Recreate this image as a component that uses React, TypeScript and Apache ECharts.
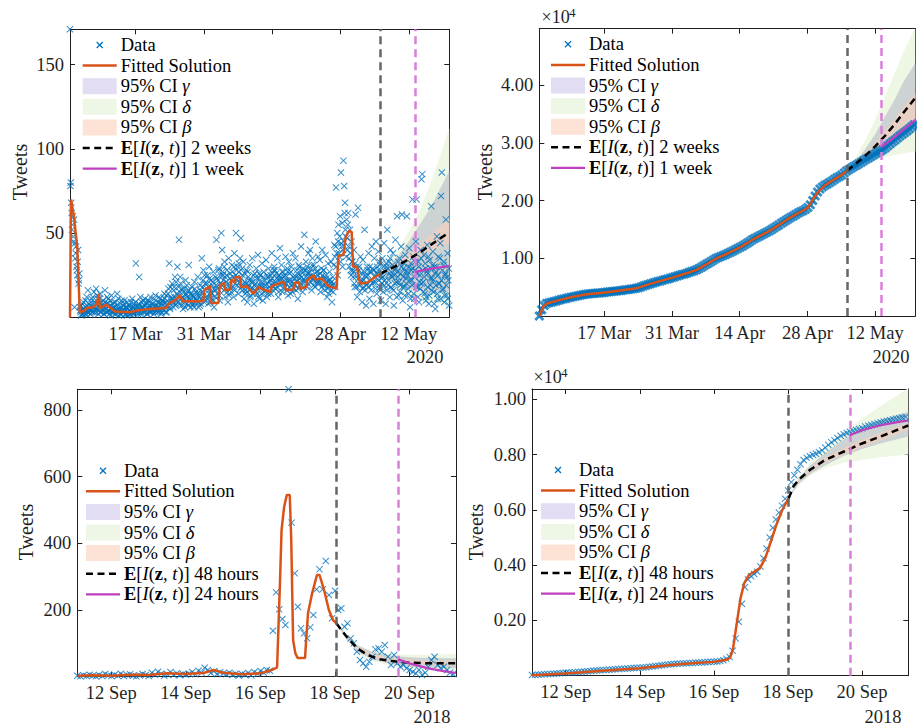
import React, { useEffect, useRef } from 'react';
import * as echarts from 'echarts';

// ---------------- DATA ----------------
// Panel 1 (top-left): tweets per hour, x = days since 1 Mar 2020
// set A sampled every 4 h from day 2.6, set B sampled every 4 h from day 2.6 + 2 h
const p1Start = 2.6;
const p1Step = 1 / 6;
const p1StartB = 2.6 + 1 / 12;
const p1Counts = [
  171, 80, 62, 55, 48, 58, 44, 38, 30, 25, 40, 22, 6, 3, 1, 8, 2, 5, 4, 10, 2, 7, 16, 3,
  5, 2, 9, 4, 12, 6, 3, 8, 17, 5, 11, 2, 6, 14, 3, 9, 4, 7, 2, 16, 5, 8, 3, 11,
  4, 7, 1, 13, 5, 3, 6, 2, 9, 4, 14, 3, 1, 5, 8, 2, 4, 7, 3, 10, 2, 6, 1, 5,
  7, 2, 4, 9, 3, 6, 2, 8, 5, 32, 3, 6, 4, 24, 7, 2, 9, 5, 6, 3, 11, 4, 8, 2,
  5, 9, 3, 12, 6, 4, 8, 2, 6, 13, 4, 7, 3, 9, 5, 11, 2, 8, 10, 4, 14, 6, 9, 3,
  7, 17, 32, 5, 12, 9, 11, 6, 18, 24, 8, 14, 30, 9, 46, 15, 20, 7, 12, 5, 17, 9, 22, 14,
  8, 16, 31, 11, 6, 13, 18, 7, 12, 21, 9, 15, 10, 24, 6, 14, 19, 8, 35, 15, 28, 9, 20, 12,
  17, 25, 8, 30, 14, 22, 11, 19, 27, 6, 16, 24, 46, 14, 22, 29, 10, 18, 50, 40, 25, 16, 33, 12,
  21, 28, 9, 35, 18, 26, 15, 31, 24, 12, 38, 20, 50, 22, 30, 14, 27, 35, 47, 18, 25, 33, 11, 21,
  16, 28, 9, 24, 19, 31, 13, 22, 35, 17, 8, 26, 20, 29, 14, 37, 23, 11, 25, 18, 32, 10, 27, 15,
  19, 34, 12, 24, 29, 16, 22, 14, 38, 26, 18, 30, 28, 17, 23, 35, 12, 25, 41, 24, 31, 15, 27, 20,
  18, 36, 22, 29, 13, 33, 26, 14, 30, 21, 38, 17, 23, 35, 16, 28, 11, 31, 30, 19, 42, 24, 15, 27,
  49, 21, 33, 18, 26, 38, 24, 40, 29, 16, 35, 22, 31, 18, 45, 27, 20, 36, 22, 34, 15, 29, 40, 19,
  28, 16, 37, 23, 12, 32, 14, 27, 20, 33, 9, 24, 31, 43, 18, 77, 38, 25, 55, 36, 60, 86, 42, 30,
  93, 78, 68, 48, 58, 40, 62, 35, 52, 28, 45, 33, 24, 40, 18, 61, 30, 12, 65, 28, 15, 36, 22, 9,
  34, 18, 52, 25, 7, 30, 20, 38, 11, 27, 16, 42, 29, 8, 35, 21, 45, 14, 26, 39, 17, 31, 10, 23,
  35, 15, 44, 22, 8, 30, 52, 19, 33, 12, 40, 25, 17, 38, 7, 28, 46, 21, 60, 24, 13, 35, 19, 42,
  61, 10, 29, 18, 37, 23, 60, 27, 14, 41, 6, 32, 22, 70, 36, 11, 28, 45, 70, 18, 33, 9, 25, 40,
  82, 85, 21, 37, 14, 29, 12, 43, 26, 8, 34, 19, 66, 23, 39, 15, 30, 5, 27, 48, 11, 36, 20, 44,
  72, 86, 16, 31, 9, 25, 58, 13, 38, 22, 7,
];
const p1CountsB = [
  78, 68, 52, 60, 45, 6, 35, 42, 28, 33, 20, 26, 4, 7, 2, 5, 9, 3, 2, 6, 12, 3, 5, 8,
  7, 4, 11, 3, 6, 15, 9, 5, 3, 13, 7, 4, 11, 3, 7, 5, 10, 2, 6, 9, 3, 12, 4, 8,
  2, 10, 5, 3, 8, 6, 9, 4, 2, 7, 5, 11, 4, 2, 6, 10, 3, 5, 8, 4, 6, 2, 9, 3,
  4, 7, 2, 5, 11, 3, 6, 3, 9, 4, 7, 2, 8, 5, 12, 3, 6, 10, 3, 7, 5, 9, 2, 6,
  10, 4, 7, 3, 8, 5, 4, 11, 3, 7, 5, 9, 6, 12, 4, 8, 3, 10, 5, 8, 11, 3, 13, 7,
  14, 9, 6, 18, 11, 20, 9, 16, 12, 7, 21, 10, 13, 18, 8, 24, 11, 17, 9, 15, 11, 6, 13, 19,
  12, 7, 16, 10, 14, 9, 8, 13, 6, 17, 11, 10, 14, 9, 12, 7, 16, 11, 18, 22, 13, 25, 16, 10,
  20, 12, 18, 23, 9, 15, 14, 21, 10, 17, 12, 19, 23, 17, 28, 13, 20, 25, 19, 27, 22, 30, 24, 17,
  25, 15, 20, 13, 23, 17, 22, 27, 18, 30, 16, 25, 28, 19, 24, 32, 21, 17, 23, 29, 16, 20, 26, 14,
  20, 15, 27, 18, 22, 12, 17, 21, 14, 25, 19, 16, 15, 23, 18, 12, 26, 19, 21, 14, 19, 24, 17, 22,
  16, 20, 25, 14, 18, 21, 25, 19, 23, 16, 28, 20, 21, 26, 18, 24, 15, 22, 19, 23, 27, 21, 17, 24,
  25, 20, 16, 27, 22, 18, 22, 27, 19, 15, 24, 20, 19, 24, 21, 26, 17, 23, 25, 20, 27, 22, 29, 18,
  22, 28, 24, 30, 20, 26, 27, 21, 25, 31, 23, 19, 24, 29, 22, 27, 25, 21, 20, 26, 23, 18, 25, 28,
  23, 19, 25, 21, 17, 22, 18, 22, 16, 21, 19, 15, 20, 36, 42, 30, 50, 45, 38, 48, 33, 44, 56, 40,
  45, 62, 52, 36, 47, 55, 42, 30, 38, 25, 33, 28, 27, 20, 32, 24, 18, 29, 23, 30, 19, 26, 21, 17,
  22, 27, 16, 24, 19, 28, 25, 18, 30, 22, 27, 20, 21, 28, 24, 17, 26, 30, 28, 22, 33, 18, 25, 20,
  24, 30, 19, 27, 32, 16, 29, 22, 26, 35, 18, 24, 31, 16, 25, 20, 29, 12, 27, 33, 21, 15, 26, 30,
  18, 24, 32, 13, 27, 20, 25, 17, 30, 22, 11, 28, 19, 29, 14, 24, 33, 18, 26, 12, 30, 21, 17, 35,
  20, 28, 15, 24, 32, 10, 27, 18, 36, 13, 23, 29, 16, 31, 22, 8, 26, 19, 30, 14, 25, 20, 35, 11,
  22, 28, 17, 33, 13, 26, 19, 24, 11, 29,
];
const p1FitX = [2.6, 2.8, 3.4, 4.1, 4.6, 5.7, 5.9, 7.4, 8.1, 8.5, 8.7, 10.1, 11.8, 14.9, 16.3, 19.0, 22.4, 22.7, 24.1, 25.1, 25.7, 29.9, 30.1, 31.3, 31.5, 33.0, 33.3, 34.2, 34.4, 35.4, 35.7, 36.4, 36.5, 37.4, 37.6, 38.8, 40.2, 41.2, 42.2, 43.7, 43.9, 46.3, 46.9, 48.3, 48.7, 49.5, 49.7, 51.0, 51.2, 52.5, 52.8, 54.2, 55.5, 57.2, 57.6, 58.6, 59.1, 59.8, 60.3, 60.6, 61.4, 62.0, 63.4, 66.2];
const p1FitY = [0, 70, 60, 41, 3, 4, 5.5, 6, 8, 14, 5.5, 7.5, 3.5, 3, 4, 5, 5.5, 8, 10, 13, 9.5, 9.5, 16, 18.5, 8.5, 8.5, 19, 20.5, 16, 16.5, 22.5, 20.5, 24, 24, 18, 18.5, 14, 18, 16.5, 15, 18.5, 21, 16, 16.5, 20.5, 21, 17, 18, 22, 25, 22.5, 23, 18.5, 17, 36.5, 37, 48, 51.5, 50.5, 30, 30, 20, 20.5, 26];
const p1PredX = [66.2, 68, 70, 72, 74, 76, 78, 80.3];
const p1Pred2w = [26, 28.5, 31.3, 34.5, 38, 42, 46, 50.5];
const p1Pred1wX = [73.3, 75, 77, 80.3];
const p1Pred1w = [27, 28, 29, 30.5];
const p1GreenHi = [26, 33, 41, 51, 62, 76, 92, 112];
const p1GreenLo = [26, 20, 15, 12, 10, 9, 8, 7];
const p1GrayHi = [26, 31, 37, 45, 54, 63, 74, 87];
const p1GrayLo = [26, 22, 19, 17, 16, 15, 15, 15];
const p1PeachHi = [26, 29.5, 33.5, 38, 43, 48, 53, 58];
const p1PeachLo = [26, 28, 30, 32.5, 35.5, 38.5, 41.5, 44];
const p1TickX = [16, 30, 44, 58, 72];
const p1TickXLabels = ['17 Mar', '31 Mar', '14 Apr', '28 Apr', '12 May'];
const p1TickY = [50, 100, 150];
const p1TickYLabels = ['50', '100', '150'];

// Panel 2 (top-right): cumulative tweets, every 12 h
const p2Start = 2.6;
const p2Step = 0.5;
const p2Cum = [
  0, 1100, 1800, 2150, 2290, 2400, 2500, 2620, 2740, 2840, 2940, 3050, 3150, 3250, 3350, 3430,
  3510, 3590, 3670, 3750, 3810, 3850, 3890, 3930, 3970, 4000, 4040, 4090, 4140, 4190, 4240, 4290,
  4330, 4380, 4430, 4490, 4550, 4610, 4670, 4730, 4790, 4900, 5040, 5180, 5340, 5480, 5600, 5720,
  5840, 5960, 6070, 6190, 6310, 6430, 6540, 6660, 6790, 6920, 7050, 7180, 7300, 7430, 7580, 7720,
  7860, 8000, 8230, 8460, 8700, 8950, 9200, 9450, 9700, 9950, 10150, 10330, 10500, 10680, 10870, 11060,
  11260, 11470, 11680, 11900, 12150, 12400, 12660, 12920, 13200, 13430, 13650, 13870, 14080, 14290, 14500, 14750,
  15000, 15250, 15500, 15780, 16060, 16340, 16600, 16850, 17100, 17350, 17600, 17850, 18050, 18250, 18500, 18800,
  19300, 20000, 20800, 21500, 22000, 22350, 22650, 22900, 23150, 23400, 23700, 23950, 24200, 24450, 24800, 25150,
  25400, 25650, 25900, 26150, 26400, 26650, 26900, 27150, 27400, 27650, 27900, 28150, 28400, 28600, 28850, 29150,
  29500, 29850, 30200, 30500, 30850, 31200, 31500, 31800, 32100, 32450, 32800, 33150,
];
const p2FitX = [2.6, 3.4, 4.2, 4.7, 6.9, 9.6, 12.4, 15.8, 19.3, 22.7, 24.8, 27.5, 30.3, 33.0, 35.1, 37.2, 39.2, 41.3, 44.1, 46.8, 49.6, 51.6, 53.7, 55.8, 57.1, 58.2, 59.2, 60.2, 61.6, 63.3, 65.1, 66.2];
const p2FitY = [0, 1600, 2200, 2300, 2800, 3350, 3780, 4020, 4410, 4800, 5400, 6050, 6700, 7400, 8000, 9000, 10000, 10750, 11900, 13300, 14500, 15500, 16650, 17700, 18250, 18900, 20300, 21500, 22650, 23550, 24450, 25200];
const p2PredX = [66.2, 68, 70, 72, 74, 76, 78, 80.3];
const p2Pred2w = [25200, 26400, 27800, 29400, 31200, 33200, 35400, 37800];
const p2Pred1wX = [73.3, 75, 77, 79, 80.3];
const p2Pred1w = [29300, 30300, 31700, 33100, 34000];
const p2GreenHi = [25200, 27500, 30500, 34000, 38000, 42000, 46000, 50000];
const p2GreenLo = [25200, 26000, 26600, 27100, 27500, 27900, 28200, 28500];
const p2GrayHi = [25200, 26800, 29000, 31500, 34500, 37500, 40800, 43800];
const p2GrayLo = [25200, 26100, 27200, 28300, 29500, 30600, 31800, 32800];
const p2PeachHi = [25200, 26600, 28200, 30000, 32000, 34100, 36300, 38600];
const p2PeachLo = [25200, 26200, 27300, 28600, 30000, 31500, 33000, 34300];
const p2TickY = [10000, 20000, 30000, 40000];
const p2TickYLabels = ['1.00', '2.00', '3.00', '4.00'];

// Panel 3 (bottom-left): tweets per hour, every 2 h, x = day of September 2018
const p3Start = 11.09;
const p3Step = 1 / 12;
const p3Counts = [
  3, 1, 4, 2, 6, 3, 1, 5, 2, 8, 4, 2,
  6, 3, 9, 2, 5, 7, 3, 1, 4, 8, 5, 2,
  12, 6, 15, 9, 3, 7, 14, 5, 10, 4, 8, 6,
  9, 14, 7, 18, 12, 27, 20, 11, 16, 8, 13, 10,
  7, 12, 5, 9, 3, 8, 6, 11, 4, 14, 9, 17,
  12, 20, 18, 138, 253, 202, 173, 155, 862, 462, 310, 210,
  145, 130, 115, 148, 185, 262, 322, 262, 347, 245, 175, 258,
  200, 205, 150, 160, 115, 100, 75, 50, 40, 30, 45, 60,
  82, 85, 75, 95, 60, 35, 65, 40, 30, 35, 25, 20,
  15, 10, 20, 5, 12, 30, 50, 60, 35, 25, 30, 20,
  12, 8,
];
const p3FitX = [11.09, 11.5, 12, 12.5, 13, 13.5, 14, 14.5, 14.75, 15, 15.5, 16, 16.3, 16.45, 16.53, 16.57, 16.64, 16.71, 16.79, 16.83, 16.88, 16.94, 17.0, 17.2, 17.23, 17.28, 17.39, 17.52, 17.59, 17.71, 17.84, 17.95, 18.04];
const p3FitY = [3, 4, 3, 6, 5, 10, 8, 12, 20, 12, 7, 10, 20, 28, 290, 440, 510, 545, 545, 410, 110, 70, 56, 56, 110, 190, 250, 305, 305, 260, 200, 170, 160];
const p3PredX = [18.04, 18.3, 18.6, 18.9, 19.2, 19.6, 20, 20.5, 21.25];
const p3Pred48 = [160, 122, 85, 64, 52, 46, 42, 40, 40];
const p3Pred24X = [19.7, 20, 20.5, 21, 21.25];
const p3Pred24 = [52, 40, 25, 15, 11];
const p3BandX = [18.04, 18.3, 18.6, 19, 19.5, 20, 20.5, 21.25];
const p3GreenHi = [160, 130, 96, 78, 68, 66, 66, 68];
const p3GreenLo = [160, 112, 72, 48, 32, 24, 20, 18];
const p3GrayHi = [160, 128, 94, 74, 63, 58, 56, 55];
const p3GrayLo = [160, 114, 75, 52, 38, 30, 27, 25];
const p3PeachHi = [160, 125, 90, 68, 56, 50, 47, 46];
const p3PeachLo = [160, 118, 80, 60, 47, 40, 36, 34];
const p3TickX = [12, 14, 16, 18, 20];
const p3TickXLabels = ['12 Sep', '14 Sep', '16 Sep', '18 Sep', '20 Sep'];
const p3TickY = [200, 400, 600, 800];
const p3TickYLabels = ['200', '400', '600', '800'];

// Panel 4 (bottom-right): cumulative tweets, every 2 h
const p4Cum = [
  25, 30, 38, 45, 52, 58, 65, 72, 80, 88, 97, 105,
  113, 120, 128, 136, 145, 153, 161, 169, 178, 186, 195, 203,
  210, 218, 225, 232, 240, 247, 255, 262, 270, 277, 284, 291,
  300, 310, 322, 335, 348, 362, 377, 390, 402, 413, 422, 430,
  437, 444, 450, 456, 462, 468, 474, 480, 487, 494, 501, 508,
  515, 535, 560, 610, 680, 900, 1350, 1950, 2600, 3200, 3480, 3600,
  3680, 3760, 3950, 4250, 4600, 5000, 5350, 5650, 5900, 6150, 6400, 6700,
  7000, 7250, 7450, 7650, 7800, 7880, 7940, 7990, 8030, 8080, 8150, 8250,
  8350, 8440, 8520, 8600, 8680, 8730, 8780, 8820, 8860, 8890, 8920, 8950,
  9010, 9040, 9070, 9100, 9130, 9160, 9190, 9215, 9240, 9265, 9290, 9315,
  9340, 9360,
];
const p4FitX = [11.09, 12.0, 13.0, 14.0, 14.9, 15.5, 16.0, 16.35, 16.44, 16.52, 16.62, 16.72, 16.82, 16.95, 17.1, 17.25, 17.4, 17.55, 17.7, 17.85, 18.02];
const p4FitY = [20, 80, 180, 270, 400, 460, 500, 580, 650, 1000, 1900, 2800, 3350, 3650, 3770, 3900, 4300, 4900, 5500, 6000, 6420];
const p4PredX = [18.02, 18.15, 18.3, 18.6, 19.0, 19.5, 20.0, 20.5, 21.25];
const p4Pred48 = [6420, 6850, 7100, 7450, 7800, 8100, 8400, 8650, 9050];
const p4Pred24X = [19.67, 20.0, 20.5, 21.0, 21.25];
const p4Pred24 = [8700, 8880, 9060, 9180, 9230];
const p4BandX = [18.02, 18.3, 18.6, 19, 19.5, 20, 20.5, 21.25];
const p4GreenHi = [6420, 7200, 7700, 8200, 8800, 9300, 9750, 10400];
const p4GreenLo = [6420, 6900, 7250, 7500, 7700, 7800, 7900, 8000];
const p4GrayHi = [6420, 7150, 7600, 8050, 8550, 8950, 9250, 9550];
const p4GrayLo = [6420, 6950, 7300, 7600, 7950, 8200, 8400, 8650];
const p4PeachHi = [6420, 7120, 7520, 7880, 8230, 8530, 8790, 9150];
const p4PeachLo = [6420, 7060, 7400, 7720, 8000, 8280, 8520, 8900];
const p4TickY = [2000, 4000, 6000, 8000, 10000];
const p4TickYLabels = ['0.20', '0.40', '0.60', '0.80', '1.00'];

const legendTop = ['Data', 'Fitted Solution', '95% CI {i|γ}', '95% CI {i|δ}', '95% CI {i|β}', '{b|E}[{i|I}({b|z}, {i|t})] 2 weeks', '{b|E}[{i|I}({b|z}, {i|t})] 1 week'];
const legendBottom = ['Data', 'Fitted Solution', '95% CI {i|γ}', '95% CI {i|δ}', '95% CI {i|β}', '{b|E}[{i|I}({b|z}, {i|t})] 48 hours', '{b|E}[{i|I}({b|z}, {i|t})] 24 hours'];

// ---------------- STYLE ----------------
const FONT = 'Liberation Serif';
const FS = 18.5;
const INK = '#1f1f1f';
const BLUE = '#0072BD';
const ORANGE = '#D95319';
const MAGENTA = '#BF40BF';
const VMAG = '#DA7FDA';
const VGRAY = '#666666';
const BAND_GREEN = '#EEF6E4';
const BAND_GRAY = '#CDD2D2';
const BAND_PEACH = '#E9D0C4';
const PATCH_G = '#E2DDF3';
const PATCH_D = '#EEF7E6';
const PATCH_B = '#FCE3D6';
const CROSS = 'path://M0,1L1,0L5,4L9,0L10,1L6,5L10,9L9,10L5,6L1,10L0,9L4,5Z';
const CROSS_BOLD = 'path://M0,2L2,0L5,3L8,0L10,2L7,5L10,8L8,10L5,7L2,10L0,8L3,5Z';

const GRIDS = [
  { left: 70, top: 29.3, width: 379.3, height: 288 },
  { left: 539.3, top: 28.7, width: 376, height: 287.3 },
  { left: 77.3, top: 389.3, width: 378.7, height: 287.4 },
  { left: 532, top: 389, width: 376.3, height: 286.7 },
];

const zip = (xs: number[], ys: number[]) => xs.map((x, i) => [x, ys[i]]);
const regular = (start: number, step: number, vals: number[]) => vals.map((v, i) => [start + i * step, v]);

function axisPair(dim: 'x' | 'y', gi: number, min: number, max: number, ticks: number[], labels: string[]) {
  const line = { show: true, onZero: false, lineStyle: { color: INK, width: 1 } };
  const tick = { show: true, inside: true, length: 5, customValues: ticks, lineStyle: { color: INK, width: 1 } };
  const fmt = (v: number) => {
    const k = ticks.findIndex((t) => Math.abs(t - v) < 1e-6);
    return k >= 0 ? labels[k] : '';
  };
  const main = {
    type: 'value', gridIndex: gi, min, max, position: dim === 'x' ? 'bottom' : 'left',
    axisLine: line, axisTick: tick, splitLine: { show: false },
    axisLabel: { show: true, customValues: ticks, formatter: fmt, margin: dim === 'x' ? 7 : 6, color: INK, fontFamily: FONT, fontSize: FS },
  };
  const mirror = {
    type: 'value', gridIndex: gi, min, max, position: dim === 'x' ? 'top' : 'right',
    axisLine: line, axisTick: tick, splitLine: { show: false }, axisLabel: { show: false },
  };
  return [main, mirror];
}

function band(gi: number, xs: number[], lo: number[], hi: number[], color: string) {
  return {
    type: 'custom', xAxisIndex: 2 * gi, yAxisIndex: 2 * gi, silent: true, clip: true, z: 1,
    data: xs.map((x, k) => [x, lo[k], hi[k]]),
    encode: { x: 0, y: [1, 2] },
    renderItem: (params: any, api: any) => {
      if (params.dataIndex !== 0) return null;
      const pts: number[][] = [];
      for (let k = 0; k < xs.length; k++) pts.push(api.coord([xs[k], hi[k]]));
      for (let k = xs.length - 1; k >= 0; k--) pts.push(api.coord([xs[k], lo[k]]));
      return { type: 'polygon', shape: { points: pts }, style: { fill: color } };
    },
  };
}

function panel(gi: number, c: any) {
  const ax = { xAxisIndex: 2 * gi, yAxisIndex: 2 * gi };
  const dash = { width: 2.5, type: [8, 5] };
  return [
    band(gi, c.bandX, c.greenLo, c.greenHi, BAND_GREEN),
    band(gi, c.bandX, c.grayLo, c.grayHi, BAND_GRAY),
    band(gi, c.bandX, c.peachLo, c.peachHi, BAND_PEACH),
    ...c.data.map((d: number[][]) => ({ type: 'scatter', ...ax, data: d, symbol: c.symbol || CROSS, symbolSize: c.size, itemStyle: { color: BLUE }, z: 2, silent: true })),
    { type: 'line', ...ax, data: c.fit, symbol: 'none', lineStyle: { color: ORANGE, width: 2.5 }, z: 3, silent: true },
    { type: 'line', ...ax, data: c.pred2, symbol: 'none', lineStyle: { color: '#000', width: 2.5, type: [7, 4.5] }, z: 4, silent: true },
    {
      type: 'line', ...ax, data: c.pred1, symbol: 'none', lineStyle: { color: MAGENTA, width: 2.2 }, z: 5, silent: true,
      markLine: {
        silent: true, symbol: ['none', 'none'], label: { show: false }, animation: false,
        lineStyle: { ...dash, color: VGRAY },
        emphasis: { disabled: true },
        data: [
          { xAxis: c.vGray, lineStyle: { ...dash, color: VGRAY } },
          { xAxis: c.vMag, lineStyle: { ...dash, color: VMAG } },
        ],
      },
    },
  ];
}

function legend(x0: number, y0: number, labels: string[]) {
  const step = 20.6;
  const iw = 34;
  const els: any[] = [];
  const cx = x0 + iw / 2;
  els.push({ type: 'line', silent: true, shape: { x1: cx - 3, y1: y0 - 3, x2: cx + 3, y2: y0 + 3 }, style: { stroke: BLUE, lineWidth: 1.3 } });
  els.push({ type: 'line', silent: true, shape: { x1: cx - 3, y1: y0 + 3, x2: cx + 3, y2: y0 - 3 }, style: { stroke: BLUE, lineWidth: 1.3 } });
  els.push({ type: 'line', silent: true, shape: { x1: x0, y1: y0 + step, x2: x0 + iw, y2: y0 + step }, style: { stroke: ORANGE, lineWidth: 2.5 } });
  [PATCH_G, PATCH_D, PATCH_B].forEach((col, k) => {
    els.push({ type: 'rect', silent: true, shape: { x: x0, y: y0 + (2 + k) * step - 8, width: iw, height: 16 }, style: { fill: col } });
  });
  els.push({ type: 'line', silent: true, shape: { x1: x0, y1: y0 + 5 * step, x2: x0 + iw, y2: y0 + 5 * step }, style: { stroke: '#000', lineWidth: 2.5, lineDash: [7, 4.5] } });
  els.push({ type: 'line', silent: true, shape: { x1: x0, y1: y0 + 6 * step, x2: x0 + iw, y2: y0 + 6 * step }, style: { stroke: MAGENTA, lineWidth: 2.2 } });
  const base = { fontFamily: FONT, fontSize: FS, fill: '#000' };
  labels.forEach((t, k) => {
    els.push({
      type: 'text', silent: true, x: x0 + iw + 4, y: y0 + k * step,
      style: {
        text: t, ...base, align: 'left', verticalAlign: 'middle',
        rich: {
          i: { fontFamily: FONT, fontSize: FS, fontStyle: 'italic', fill: '#000' },
          b: { fontFamily: FONT, fontSize: FS, fontWeight: 'bold', fill: '#000' },
        },
      },
    });
  });
  return els;
}

function label(text: string, x: number, y: number, size: number, rotate = 0, align = 'center') {
  return {
    type: 'text', silent: true, x, y, rotation: rotate,
    style: { text, fontFamily: FONT, fontSize: size, fill: INK, align, verticalAlign: 'middle' },
  };
}

export default function App() {
  const ref = useRef<HTMLDivElement>(null);
  useEffect(() => {
    if (!ref.current) return;
    const chart = echarts.init(ref.current, null, { renderer: 'svg' });
    const xAxis = [
      ...axisPair('x', 0, 2.6, 80.3, p1TickX, p1TickXLabels),
      ...axisPair('x', 1, 2.6, 80.3, p1TickX, p1TickXLabels),
      ...axisPair('x', 2, 11.09, 21.25, p3TickX, p3TickXLabels),
      ...axisPair('x', 3, 11.09, 21.25, p3TickX, p3TickXLabels),
    ];
    const yAxis = [
      ...axisPair('y', 0, 0, 171, p1TickY, p1TickYLabels),
      ...axisPair('y', 1, 0, 49800, p2TickY, p2TickYLabels),
      ...axisPair('y', 2, 0, 862, p3TickY, p3TickYLabels),
      ...axisPair('y', 3, 0, 10370, p4TickY, p4TickYLabels),
    ];
    const series = [
      ...panel(0, {
        data: [regular(p1Start, p1Step, p1Counts), regular(p1StartB, p1Step, p1CountsB)], size: 7, fit: zip(p1FitX, p1FitY),
        pred2: zip(p1PredX, p1Pred2w), pred1: zip(p1Pred1wX, p1Pred1w), vGray: 66.2, vMag: 73.3,
        bandX: p1PredX, greenLo: p1GreenLo, greenHi: p1GreenHi, grayLo: p1GrayLo, grayHi: p1GrayHi, peachLo: p1PeachLo, peachHi: p1PeachHi,
      }),
      ...panel(1, {
        data: [regular(p2Start, p2Step, p2Cum)], size: 10, symbol: CROSS_BOLD, fit: zip(p2FitX, p2FitY),
        pred2: zip(p2PredX, p2Pred2w), pred1: zip(p2Pred1wX, p2Pred1w), vGray: 66.2, vMag: 73.3,
        bandX: p2PredX, greenLo: p2GreenLo, greenHi: p2GreenHi, grayLo: p2GrayLo, grayHi: p2GrayHi, peachLo: p2PeachLo, peachHi: p2PeachHi,
      }),
      ...panel(2, {
        data: [regular(p3Start, p3Step, p3Counts)], size: 7, fit: zip(p3FitX, p3FitY),
        pred2: zip(p3PredX, p3Pred48), pred1: zip(p3Pred24X, p3Pred24), vGray: 18.04, vMag: 19.7,
        bandX: p3BandX, greenLo: p3GreenLo, greenHi: p3GreenHi, grayLo: p3GrayLo, grayHi: p3GrayHi, peachLo: p3PeachLo, peachHi: p3PeachHi,
      }),
      ...panel(3, {
        data: [regular(p3Start, p3Step, p4Cum)], size: 7, fit: zip(p4FitX, p4FitY),
        pred2: zip(p4PredX, p4Pred48), pred1: zip(p4Pred24X, p4Pred24), vGray: 18.02, vMag: 19.67,
        bandX: p4BandX, greenLo: p4GreenLo, greenHi: p4GreenHi, grayLo: p4GrayLo, grayHi: p4GrayHi, peachLo: p4PeachLo, peachHi: p4PeachHi,
      }),
    ];
    const graphics = [
      ...legend(82.7, 45, legendTop),
      ...legend(551, 44.3, legendTop),
      ...legend(86, 470.7, legendBottom),
      ...legend(541, 470, legendBottom),
      label('Tweets', 19.5, 172, 20, Math.PI / 2),
      label('Tweets', 484.5, 172, 20, Math.PI / 2),
      label('Tweets', 26, 532, 20, Math.PI / 2),
      label('Tweets', 476, 532, 20, Math.PI / 2),
      label('×10', 541.5, 17, 18, 0, 'left'),
      label('4', 569, 12, 13, 0, 'left'),
      label('×10', 533.5, 377, 18, 0, 'left'),
      label('4', 561, 372, 13, 0, 'left'),
      label('2020', 425, 357, FS),
      label('2020', 891, 357, FS),
      label('2018', 432, 717, FS),
      label('2018', 883, 717, FS),
    ];
    chart.setOption({
      animation: false,
      backgroundColor: '#ffffff',
      grid: GRIDS.map((g) => ({ ...g, containLabel: false })),
      xAxis,
      yAxis,
      series,
      graphic: { elements: graphics },
    });
    return () => chart.dispose();
  }, []);
  return <div ref={ref} style={{ position: 'absolute', left: 0, top: 0, width: 917, height: 727 }} />;
}
